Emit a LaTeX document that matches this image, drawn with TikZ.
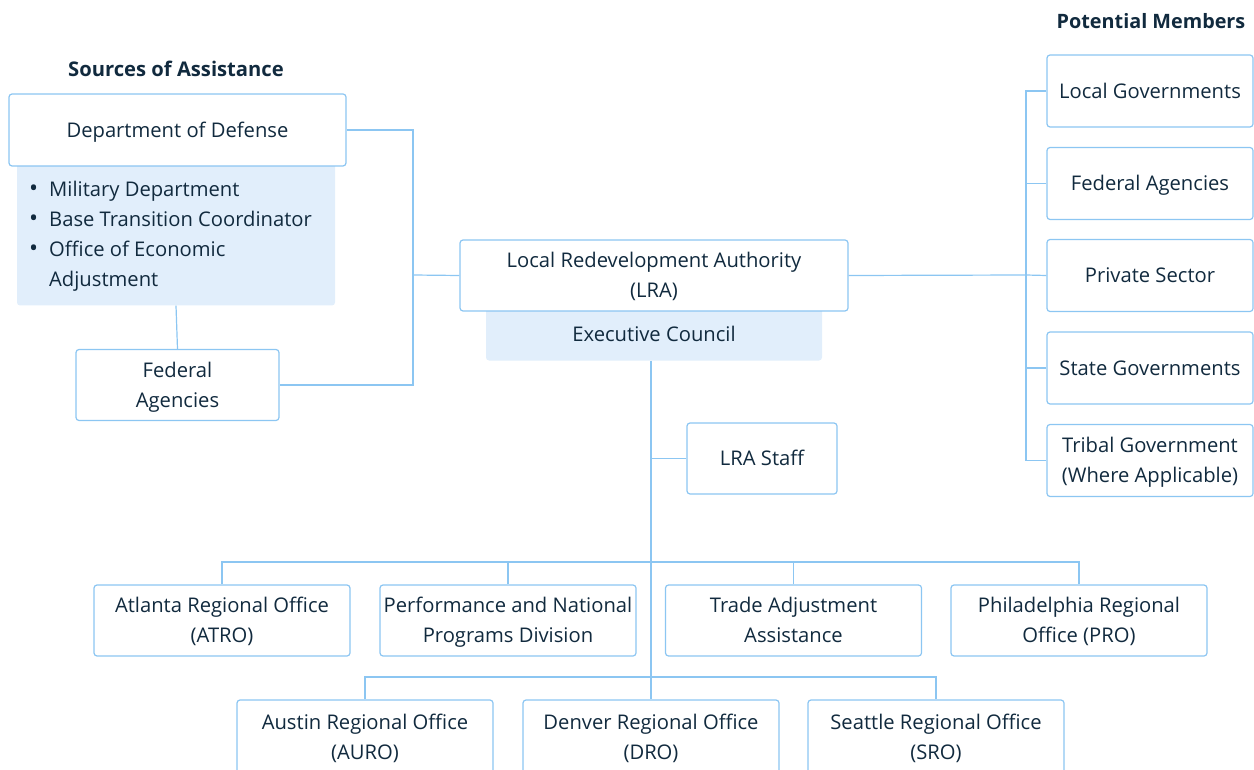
\documentclass[tikz,border=0pt]{standalone}
\usepackage{fontspec}
\setmainfont{Open Sans}
\definecolor{bcol}{HTML}{8CC6F2}
\definecolor{tcol}{HTML}{112A3E}
\definecolor{fcol}{HTML}{E1EEFB}
\newcommand{\bul}{\makebox[20pt][l]{\raisebox{0pt}{\fontsize{24}{30}\selectfont\textbullet}}}
\begin{document}
\begin{tikzpicture}[x=1pt,y=-1pt,
  font=\fontsize{20.2}{30}\selectfont,
  box/.style={draw=bcol, line width=1.2pt, rounded corners=3pt, fill=white, align=center, text=tcol, inner sep=0pt},
  one/.style={text height=14.5pt, text depth=0pt},
  two/.style={text height=44.5pt, text depth=0pt},
  bluebox/.style={fill=fcol, rounded corners=3pt, inner sep=0pt, text=tcol},
  conn/.style={draw=bcol, line width=1.2pt},
  title/.style={font=\fontsize{20.2}{22}\selectfont\bfseries, text=tcol, inner sep=0pt}]
\useasboundingbox (0,0) rectangle (1254,770);

% titles
\node[title] (t1) at (176,69) {Sources of Assistance};
\node[title, font=\fontsize{19.8}{22}\selectfont\bfseries] (t2) at (1151,21) {Potential Members};

% left group
\node[bluebox, minimum width=318pt, minimum height=145pt] (dodlist) at (176,233) {};
\node[box, one, minimum width=337pt, minimum height=72pt] (dod) at (177.5,130) {Department of Defense};
\node[anchor=north west, align=left, inner sep=0pt, text=tcol, text height=104.5pt, text depth=0pt] (lst) at (29,181.5)
  {\bul Military Department\\
   \bul Base Transition Coordinator\\
   \bul Office of Economic\\
   \hspace*{20pt}Adjustment};
\node[box, two, minimum width=203pt, minimum height=71pt] (fa) at (177.5,385) {Federal\\Agencies};

% center
\node[bluebox, minimum width=336pt, minimum height=55pt] (ec) at (654,333) {};
\node[box, two, minimum width=388pt, minimum height=71pt] (lra) at (654,275.5) {Local Redevelopment Authority\\(LRA)};
\node[one, text=tcol, inner sep=0pt] (ect) at (654,334.5) {Executive Council};
\node[box, one, minimum width=150pt, minimum height=71pt] (staff) at (762,458.5) {LRA Staff};

% right group
\node[box, one, minimum width=206pt, minimum height=72pt] (r1) at (1150,91) {Local Governments};
\node[box, one, minimum width=206pt, minimum height=72pt] (r2) at (1150,183.5) {Federal Agencies};
\node[box, one, minimum width=206pt, minimum height=72pt] (r3) at (1150,275.5) {Private Sector};
\node[box, one, minimum width=206pt, minimum height=72pt] (r4) at (1150,368) {State Governments};
\node[box, two, minimum width=206pt, minimum height=72pt] (r5) at (1150,460.5) {Tribal Government\\(Where Applicable)};

% row 1
\node[box, two, minimum width=256pt, minimum height=71pt] (atl) at (222,620.5) {Atlanta Regional Office\\(ATRO)};
\node[box, two, minimum width=256pt, minimum height=71pt] (pnp) at (508,620.5) {Performance and National\\Programs Division};
\node[box, two, minimum width=256pt, minimum height=71pt] (tra) at (793.5,620.5) {Trade Adjustment\\Assistance};
\node[box, two, minimum width=256pt, minimum height=71pt] (phi) at (1079,620.5) {Philadelphia Regional\\Office (PRO)};

% row 2
\node[box, two, minimum width=256pt, minimum height=74pt] (aus) at (365,737) {Austin Regional Office\\(AURO)};
\node[box, two, minimum width=256pt, minimum height=74pt] (den) at (651,737) {Denver Regional Office\\(DRO)};
\node[box, two, minimum width=256pt, minimum height=74pt] (sea) at (936,737) {Seattle Regional Office\\(SRO)};

% junctions
\coordinate (jl) at (413,275);
\coordinate (jr) at (1026,275);
\coordinate (bus1) at (651,562);
\coordinate (bus2) at (651,677);

% connectors left
\draw[conn] (dod.east) -| (jl) |- (fa.east);
\draw[conn] (jl) -- (lra.west);
\draw[conn] (dodlist.south) -- (fa.north);

% connectors right
\draw[conn] (lra.east) -- (jr);
\draw[conn] (jr) |- (r1.west);
\draw[conn] (jr) |- (r2.west);
\draw[conn] (jr) |- (r4.west);
\draw[conn] (jr) |- (r5.west);
\draw[conn] (jr) -- (r3.west);

% trunk
\draw[conn] (ec.south -| den.north) -- (den.north);
\draw[conn] (staff.west) -- (staff.west -| den.north);
\draw[conn] (atl.north) |- (bus1) -| (phi.north);
\draw[conn] (pnp.north) -- (pnp.north |- bus1);
\draw[conn] (tra.north) -- (tra.north |- bus1);
\draw[conn] (aus.north) |- (bus2) -| (sea.north);
\end{tikzpicture}
\end{document}
